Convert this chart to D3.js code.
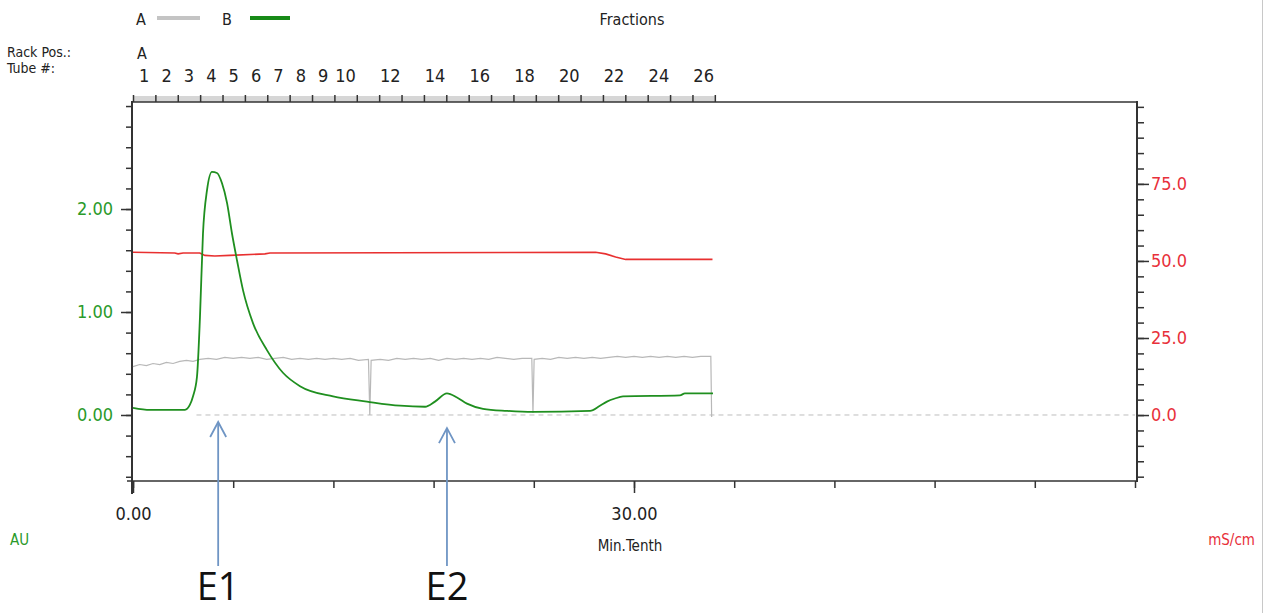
<!DOCTYPE html>
<html>
<head>
<meta charset="utf-8">
<script src="https://cdn.jsdelivr.net/npm/d3@7"></script>
<style>
  body { margin: 0; background: #fff; }
  svg { display: block; }
</style>
</head>
<body>
<div class="chart"></div>
<script>
// chromatogram data, x in Min.Tenth
var uvB = [[0,0.07],[1.02,0.05],[3.11,0.05],[3.41,0.10],[3.59,0.18],[3.83,0.37],[4.01,0.95],[4.19,1.76],[4.43,2.18],[4.73,2.36],[5.03,2.35],[5.33,2.25],[5.63,2.06],[5.93,1.76],[6.23,1.50],[6.59,1.21],[7.19,0.89],[8.02,0.63],[8.98,0.41],[10.0,0.28],[11.98,0.18],[14.01,0.13],[15.99,0.09],[17.49,0.08],[18.08,0.13],[18.8,0.21],[19.4,0.17],[20.0,0.11],[20.96,0.06],[22.4,0.04],[23.95,0.03],[27.37,0.04],[27.96,0.09],[28.38,0.13],[28.86,0.16],[29.34,0.18],[32.75,0.19],[33.05,0.21],[34.73,0.21]];

var uvA = [[0,0.47],[0.4,0.49],[0.8,0.48],[1.2,0.50],[1.6,0.49],[2.0,0.51],[2.4,0.50],[2.8,0.52],[3.2,0.53],[3.6,0.52],[4.0,0.54],[4.5,0.55],[5.0,0.54],[5.5,0.56],[6.0,0.55],[6.5,0.56],[7.0,0.55],[7.5,0.56],[8,0.54],[8.5,0.55],[9,0.56],[9.5,0.54],[10,0.55],[10.5,0.54],[11,0.55],[11.5,0.54],[12,0.55],[12.5,0.54],[13,0.55],[13.5,0.53],[14.1,0.54],[14.18,0.0],[14.26,0.53],[14.8,0.54],[15.3,0.53],[15.8,0.55],[16.3,0.54],[16.8,0.55],[17.3,0.54],[17.8,0.55],[18.3,0.53],[18.8,0.55],[19.3,0.54],[19.8,0.55],[20.3,0.54],[20.8,0.55],[21.3,0.54],[21.8,0.56],[22.3,0.55],[22.8,0.54],[23.3,0.55],[23.88,0.55],[23.95,0.02],[24.02,0.54],[24.5,0.55],[25,0.54],[25.5,0.56],[26,0.55],[26.5,0.56],[27,0.55],[27.5,0.56],[28,0.55],[28.5,0.56],[29,0.57],[29.5,0.56],[30,0.57],[30.5,0.56],[31,0.57],[31.5,0.56],[32,0.57],[32.5,0.56],[33,0.57],[33.5,0.56],[34,0.57],[34.6,0.57],[34.65,-0.02]];

var cond = [[0,52.8],[2.5,52.6],[2.7,52.3],[3.0,52.6],[4.0,52.6],[4.3,51.8],[4.9,51.6],[5.8,51.8],[7.9,52.3],[8.2,52.6],[27.7,52.8],[28.3,52.3],[28.9,51.3],[29.5,50.5],[34.7,50.5]];

var tubeLabels = [1,2,3,4,5,6,7,8,9,10,12,14,16,18,20,22,24,26];
var tubeCount = 26;
var tubeWidth = 1.34;

var xTicks = d3.range(0, 61, 6);
var xLabels = [0, 30];
var auTicks = d3.range(-0.6, 3.01, 0.2);
var auLabels = [0, 1, 2];
var msTicks = d3.range(-20, 101, 5);
var msLabels = [0, 25, 50, 75];

var peaks = [{name: "E1", x: 5.1, tip: 0.0}, {name: "E2", x: 18.8, tip: -0.06}];

var narrow = "'DejaVu Sans Condensed','Liberation Sans Narrow',sans-serif";
var green = "#2a9a2a", red = "#e8303a", lineGreen = "#1f8f1f", lineRed = "#e83030";

var svg = d3.select(".chart").append("svg")
    .attr("width", 1265)
    .attr("height", 613)
    .style("font-family", narrow);

var x = d3.scaleLinear().domain([0, 60]).range([133, 1135]);
var yL = d3.scaleLinear().domain([-0.641, 3.049]).range([481, 101]);
var yR = d3.scaleLinear().domain([-21.4, 101.9]).range([481, 101]);

// frame line on right edge
svg.append("line").attr("x1", 1262.5).attr("x2", 1262.5).attr("y1", 0).attr("y2", 613)
    .attr("stroke", "#c8c8c8");

// legend
svg.append("text").attr("x", 136).attr("y", 25).text("A").style("font-size", "16px").attr("fill", "#222");
svg.append("line").attr("x1", 157).attr("x2", 200).attr("y1", 18).attr("y2", 18)
    .attr("stroke", "#c4c4c4").attr("stroke-width", 4);
svg.append("text").attr("x", 222).attr("y", 25).text("B").style("font-size", "16px").attr("fill", "#222");
svg.append("line").attr("x1", 250).attr("x2", 290).attr("y1", 18).attr("y2", 18)
    .attr("stroke", "#178a17").attr("stroke-width", 4);
svg.append("text").attr("x", 632).attr("y", 25).attr("text-anchor", "middle")
    .text("Fractions").style("font-size", "16px").attr("fill", "#222");

svg.append("text").attr("x", 7).attr("y", 57).text("Rack Pos.:").style("font-size", "14px").attr("fill", "#222");
svg.append("text").attr("x", 7).attr("y", 73).text("Tube #:").style("font-size", "14px").attr("fill", "#222");
svg.append("text").attr("x", 137).attr("y", 59).text("A").style("font-size", "16px").attr("fill", "#222");

// fraction band
svg.append("rect").attr("x", x(0)).attr("y", 96).attr("width", x(tubeCount * tubeWidth) - x(0)).attr("height", 6)
    .attr("fill", "#d6d6d6");
var fracAxis = d3.axisTop(x)
    .tickValues(d3.range(0, tubeCount + 1).map(function(i) { return i * tubeWidth; }))
    .tickSize(7).tickFormat("");
svg.append("g").attr("transform", "translate(0,102)").call(fracAxis)
    .call(function(g) { g.select(".domain").remove(); g.selectAll("line").attr("stroke", "#333").attr("stroke-width", 1.5); });
svg.append("g").selectAll("text").data(tubeLabels).enter().append("text")
    .attr("x", function(d) { return x((d - 0.5) * tubeWidth); })
    .attr("y", 82)
    .attr("text-anchor", "middle")
    .style("font-size", "18px")
    .attr("fill", "#222")
    .text(function(d) { return d; });

// plot frame top
svg.append("line").attr("x1", 133).attr("x2", 1137).attr("y1", 102).attr("y2", 102)
    .attr("stroke", "#333").attr("stroke-width", 1.5);

// x axis
var xMinor = d3.axisBottom(x).tickValues(xTicks).tickSize(7).tickFormat("");
svg.append("g").attr("transform", "translate(0,481)").call(xMinor)
    .call(function(g) { g.select(".domain").remove(); g.selectAll("line").attr("stroke", "#333").attr("stroke-width", 1.5); });
var xMajor = d3.axisBottom(x).tickValues(xLabels).tickSize(12).tickPadding(14)
    .tickFormat(d3.format(".2f"));
svg.append("g").attr("transform", "translate(0,481)").call(xMajor)
    .call(function(g) {
        g.select(".domain").remove();
        g.selectAll("line").attr("stroke", "#333").attr("stroke-width", 1.5);
        g.selectAll("text").attr("fill", "#222").style("font-size", "18px").style("font-family", narrow);
    });
svg.append("line").attr("x1", 127).attr("x2", 1137).attr("y1", 481).attr("y2", 481)
    .attr("stroke", "#333").attr("stroke-width", 1.5);
svg.append("text").attr("x", 630).attr("y", 551).attr("text-anchor", "middle")
    .text("Min.Tenth").style("font-size", "15px").attr("fill", "#222");

// left axis
var lMinor = d3.axisLeft(yL).tickValues(auTicks).tickSize(6).tickFormat("");
svg.append("g").attr("transform", "translate(132,0)").call(lMinor)
    .call(function(g) { g.select(".domain").remove(); g.selectAll("line").attr("stroke", "#333").attr("stroke-width", 1.5); });
var lMajor = d3.axisLeft(yL).tickValues(auLabels).tickSize(11).tickPadding(8).tickFormat(d3.format(".2f"));
svg.append("g").attr("transform", "translate(132,0)").call(lMajor)
    .call(function(g) {
        g.select(".domain").remove();
        g.selectAll("line").attr("stroke", "#333").attr("stroke-width", 1.5);
        g.selectAll("text").attr("fill", green).style("font-size", "18px").style("font-family", narrow);
    });
svg.append("line").attr("x1", 132).attr("x2", 132).attr("y1", 101).attr("y2", 494)
    .attr("stroke", "#333").attr("stroke-width", 2);
svg.append("text").attr("x", 10).attr("y", 545).text("AU").style("font-size", "15px").attr("fill", green);

// right axis
var rMinor = d3.axisRight(yR).tickValues(msTicks).tickSize(7).tickFormat("");
svg.append("g").attr("transform", "translate(1137,0)").call(rMinor)
    .call(function(g) { g.select(".domain").remove(); g.selectAll("line").attr("stroke", "#333").attr("stroke-width", 1.5); });
var rMajor = d3.axisRight(yR).tickValues(msLabels).tickSize(12).tickPadding(2).tickFormat(d3.format(".1f"));
svg.append("g").attr("transform", "translate(1137,0)").call(rMajor)
    .call(function(g) {
        g.select(".domain").remove();
        g.selectAll("line").attr("stroke", "#333").attr("stroke-width", 1.5);
        g.selectAll("text").attr("fill", red).style("font-size", "18px").style("font-family", narrow);
    });
svg.append("line").attr("x1", 1137).attr("x2", 1137).attr("y1", 101).attr("y2", 482)
    .attr("stroke", "#333").attr("stroke-width", 2);
svg.append("text").attr("x", 1255).attr("y", 545).attr("text-anchor", "end")
    .text("mS/cm").style("font-size", "15px").attr("fill", red);

// baseline
svg.append("line").attr("x1", x(3.8)).attr("x2", x(60)).attr("y1", yL(0)).attr("y2", yL(0))
    .attr("stroke", "#bdbdbd").attr("stroke-dasharray", "5,4");

// traces
var lineL = d3.line().x(function(d) { return x(d[0]); }).y(function(d) { return yL(d[1]); });
var lineR = d3.line().x(function(d) { return x(d[0]); }).y(function(d) { return yR(d[1]); });

svg.append("path").datum(uvA).attr("d", lineL).attr("fill", "none")
    .attr("stroke", "#b8b8b8").attr("stroke-width", 1.2);
svg.append("path").datum(cond).attr("d", lineR).attr("fill", "none")
    .attr("stroke", lineRed).attr("stroke-width", 1.6);
svg.append("path").datum(uvB).attr("d", lineL.curve(d3.curveMonotoneX)).attr("fill", "none")
    .attr("stroke", lineGreen).attr("stroke-width", 1.8);

// peak annotations
var ann = svg.append("g").selectAll("g").data(peaks).enter().append("g");
ann.append("line")
    .attr("x1", function(d) { return x(d.x); }).attr("x2", function(d) { return x(d.x); })
    .attr("y1", function(d) { return yL(d.tip) + 7; }).attr("y2", 566)
    .attr("stroke", "#6f95c4").attr("stroke-width", 1.8);
ann.append("path")
    .attr("d", function(d) {
        var px = x(d.x), py = yL(d.tip) + 7;
        return "M" + (px - 8) + "," + (py + 15) + "L" + px + "," + py + "L" + (px + 8) + "," + (py + 15);
    })
    .attr("fill", "none").attr("stroke", "#6f95c4").attr("stroke-width", 1.8);
ann.append("text")
    .attr("x", function(d) { return x(d.x); })
    .attr("y", 600)
    .attr("text-anchor", "middle")
    .style("font-size", "38px")
    .style("font-family", "'Open Sans','Liberation Sans',sans-serif")
    .attr("fill", "#111")
    .text(function(d) { return d.name; });
</script>
</body>
</html>
